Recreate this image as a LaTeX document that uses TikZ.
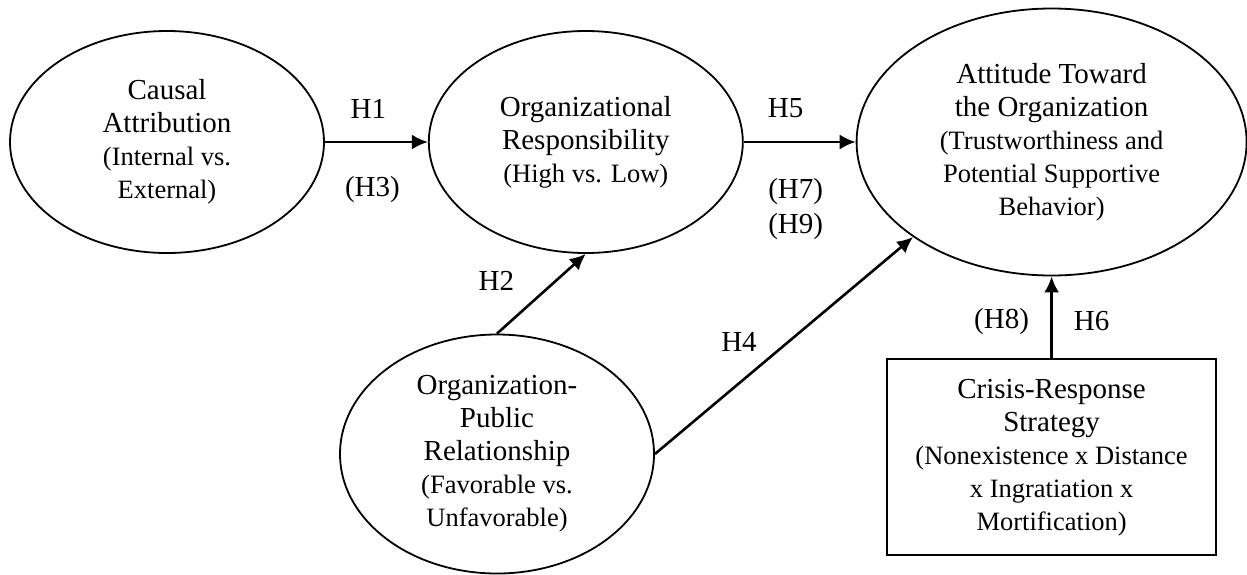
\documentclass[tikz,border=0pt]{standalone}
\usepackage{fontspec}
\setmainfont{Liberation Serif}
\usetikzlibrary{positioning, shapes.geometric, arrows.meta}
\newcommand{\mainsize}{\fontsize{29pt}{33pt}\selectfont}
\newcommand{\subsize}{\fontsize{26.5pt}{30pt}\selectfont}

\begin{document}
\begin{tikzpicture}[x=1pt, y=-1pt, >={Latex[length=16pt,width=15pt]},
    construct/.style={ellipse, draw, line width=1.8pt, inner sep=0pt, align=center, font=\mainsize},
    hyp/.style={font=\mainsize, inner sep=0pt, align=center},
    path/.style={->, line width=2.6pt}]
    \useasboundingbox (0,0) rectangle (1247,574);

    \node [construct, minimum width=314pt, minimum height=222pt] (causal) at (167,142)
        {Causal\\Attribution\\{\subsize (Internal vs.}\\{\subsize External)}};
    \node [construct, minimum width=314pt, minimum height=222pt, right=103pt of causal] (resp)
        {Organizational\\Responsibility\\{\subsize (High vs. Low)}};
    \node [construct, minimum width=390pt, minimum height=267pt, right=112pt of resp] (attitude)
        {Attitude Toward\\the Organization\\{\subsize (Trustworthiness and}\\{\subsize Potential Supportive}\\{\subsize Behavior)}};
    \node [construct, minimum width=314pt, minimum height=239pt] (opr) at (497,454)
        {Organization-\\Public\\Relationship\\{\subsize (Favorable vs.}\\{\subsize Unfavorable)}};
    \node [rectangle, draw, line width=1.8pt, align=center, font=\mainsize,
        minimum width=329pt, minimum height=196pt, below=82pt of attitude] (crisis)
        {Crisis-Response\\Strategy\\{\subsize (Nonexistence x Distance}\\{\subsize x Ingratiation x}\\{\subsize Mortification)}};

    \draw [path] (causal.east) -- node[hyp, xshift=-8pt, yshift=33pt] (h1) {H1}
        node[hyp, xshift=-4pt, yshift=-48pt] (h3) {(H3)} (resp.west);
    \draw [path] (resp.east) -- node[hyp, xshift=-14pt, yshift=34pt] (h5) {H5}
        node[hyp, xshift=-4pt, yshift=-67pt] (h79) {(H7)\\[2pt](H9)} (attitude.west);
    \draw [path] (opr.north) -- node[hyp, xshift=-45pt, yshift=13pt] (h2) {H2} (resp.south);
    \draw [path] (opr.east) -- node[hyp, xshift=-45pt, yshift=4pt] (h4) {H4} (attitude.south west);
    \draw [path] (crisis.north) -- node[hyp, xshift=-50pt, yshift=-4pt] (h8) {(H8)}
        node[hyp, xshift=40pt, yshift=-4pt] (h6) {H6} (attitude.south);
\end{tikzpicture}
\end{document}
